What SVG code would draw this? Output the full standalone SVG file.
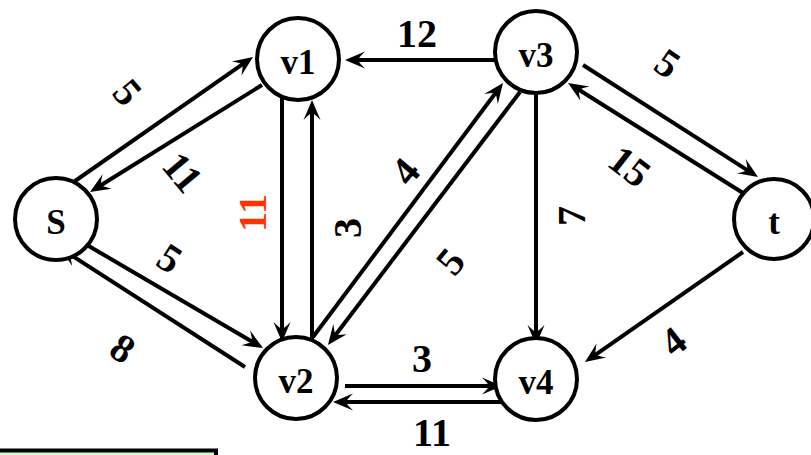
<svg xmlns="http://www.w3.org/2000/svg" width="811" height="455" viewBox="0 0 811 455">
<style>
.node circle{fill:#fff;stroke:#000;stroke-width:4}
.node text{font-family:"Liberation Serif","Times New Roman",serif;font-weight:bold;font-size:35px;text-anchor:middle;fill:#000}
.edge{stroke:#000;stroke-width:4;fill:none;marker-end:url(#arr)}
.lbl{font-family:"Liberation Serif","Times New Roman",serif;font-weight:bold;font-size:40px;text-anchor:middle;fill:#000}
.red{fill:#FF3300}
</style>
<defs>
<marker id="arr" markerUnits="userSpaceOnUse" viewBox="-12 -10 24 20" refX="0" refY="0" markerWidth="24" markerHeight="20" orient="auto">
<path d="M10,0 L-10,-8.5 Q-3,-1.5 -3,0 Q-3,1.5 -10,8.5 Z" fill="#000"/>
</marker>
</defs>
<rect width="811" height="455" fill="#fff"/>
<rect x="-5" y="450.5" width="221" height="20" fill="#CCFFCC" stroke="#000" stroke-width="4"/>
<g id="connectors">
<line class="edge" x1="65" y1="188" x2="244.8" y2="62.7"/>
<line class="edge" x1="262" y1="85" x2="98.5" y2="186.7"/>
<line class="edge" x1="87" y1="245" x2="254.4" y2="343"/>
<line class="edge" x1="245" y1="367" x2="68.4" y2="253.4"/>
<line class="edge" x1="282" y1="98" x2="282" y2="332"/>
<line class="edge" x1="312" y1="345" x2="312" y2="110"/>
<line class="edge" x1="503" y1="60" x2="355" y2="60"/>
<line class="edge" x1="313" y1="337" x2="497" y2="91"/>
<line class="edge" x1="520" y1="92" x2="334" y2="337"/>
<line class="edge" x1="536" y1="93" x2="536" y2="335"/>
<line class="edge" x1="583" y1="65" x2="749.6" y2="171.6"/>
<line class="edge" x1="743" y1="193" x2="576.5" y2="88.3"/>
<line class="edge" x1="743" y1="252" x2="593.2" y2="356.3"/>
<line class="edge" x1="345" y1="386" x2="492" y2="386"/>
<line class="edge" x1="502" y1="402" x2="343" y2="402"/>
</g>
<g id="labels">
<text class="lbl" transform="translate(128,92) rotate(50)" y="14">5</text>
<text class="lbl" transform="translate(183,172) rotate(50)" y="14">11</text>
<text class="lbl" transform="translate(170,258) rotate(33)" y="14">5</text>
<text class="lbl" transform="translate(123,348) rotate(33)" y="14">8</text>
<text class="lbl red" transform="translate(252,213) rotate(-90)" y="14">11</text>
<text class="lbl" transform="translate(347,228) rotate(-90)" y="14">3</text>
<text class="lbl" transform="translate(417,33)" y="14">12</text>
<text class="lbl" transform="translate(405,171) rotate(-50)" y="14">4</text>
<text class="lbl" transform="translate(450,261) rotate(-50)" y="14">5</text>
<text class="lbl" transform="translate(571,216) rotate(-90)" y="14">7</text>
<text class="lbl" transform="translate(668,63) rotate(35)" y="14">5</text>
<text class="lbl" transform="translate(630,166) rotate(38)" y="14">15</text>
<text class="lbl" transform="translate(673,341) rotate(-38)" y="14">4</text>
<text class="lbl" transform="translate(422,358)" y="14">3</text>
<text class="lbl" transform="translate(432,432)" y="14">11</text>
</g>
<g id="S" class="node"><circle cx="56" cy="219" r="41"/><text x="56" y="234">S</text></g>
<g id="v1" class="node"><circle cx="298" cy="59" r="41"/><text x="298" y="74">v1</text></g>
<g id="v3" class="node"><circle cx="536" cy="52" r="41"/><text x="536" y="67">v3</text></g>
<g id="t" class="node"><circle cx="774" cy="219" r="40"/><text x="774" y="234">t</text></g>
<g id="v2" class="node"><circle cx="296" cy="378" r="41"/><text x="296" y="393">v2</text></g>
<g id="v4" class="node"><circle cx="536" cy="379" r="41"/><text x="536" y="394">v4</text></g>
</svg>
